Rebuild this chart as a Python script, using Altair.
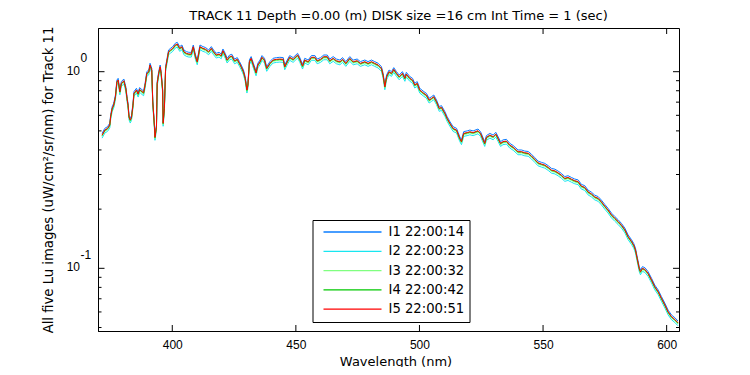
import altair as alt
import pandas as pd

# ---------------- data ----------------
wavelength = [
    371.6, 372.7, 373.8, 374.7, 375.1, 375.7, 376.3, 377.0, 377.6, 378.1,
    378.8, 379.4, 380.4, 381.2, 381.7, 382.1, 382.5, 383.0, 383.5, 384.1,
    384.5, 385.5, 386.2, 386.8, 387.4, 388.4, 389.0, 389.7, 390.5, 391.0,
    391.7, 392.1, 392.8, 393.0, 393.6, 393.9, 394.5, 395.1, 395.5, 396.1,
    396.3, 396.8, 397.3, 397.9, 398.5, 399.3, 400.2, 401.2, 402.0, 403.0,
    403.9, 404.7, 405.7, 406.7, 407.7, 408.5, 409.4, 410.1, 411.2, 412.4,
    413.5, 414.7, 415.8, 416.7, 417.8, 418.9, 419.8, 420.5, 421.4, 422.2,
    423.2, 424.1, 425.2, 426.3, 427.2, 427.9, 428.8, 429.5, 430.2, 430.6,
    431.2, 431.9, 432.8, 433.9, 434.6, 435.5, 436.3, 437.3, 438.2,
    439.5, 440.8, 442.2, 443.5, 444.9, 445.5, 446.5, 447.5, 448.9, 450.7,
    451.6, 452.7, 453.6, 455.0, 456.3, 457.7, 458.6, 460.0, 461.3, 462.7,
    463.7, 465.1, 466.4, 467.8, 468.9, 470.2, 471.8, 473.2, 474.8, 476.1,
    477.9, 479.2, 480.6, 481.9, 483.3, 484.6, 485.3, 486.0, 486.7, 487.7,
    488.7, 489.6, 490.7, 491.8, 493.1, 494.1, 494.7, 496.1, 497.2, 498.1,
    499.1, 500.1, 501.8, 502.8, 503.9, 504.9, 505.8, 506.9, 508.0, 508.9,
    510.3, 511.2, 512.3, 513.6, 515.0,
    516.3, 517.0, 517.9, 519.3, 520.4, 521.7, 523.7, 524.7, 526.4, 527.1,
    528.5, 529.8, 530.9, 531.8, 532.8, 533.8, 535.2, 536.5, 537.9, 539.9,
    541.3, 542.6, 544.0, 545.3, 546.7, 548.0, 549.4, 550.7, 552.1, 553.4,
    554.8, 556.1, 557.4, 558.8, 560.1, 561.5, 562.8, 564.2, 565.5, 566.9,
    568.2, 569.6, 570.9, 572.3, 573.6, 575.0, 576.3, 577.7, 579.0, 580.4,
    581.7, 583.1, 584.4, 585.8, 586.7, 587.4, 588.1, 588.9, 589.4, 590.2,
    591.2, 592.5, 593.9, 595.2, 596.6, 597.9, 599.3, 600.6, 602.0, 603.3,
    604.6,
]

# Lu of image I5 (red trace)
lu_i5 = [
    0.476, 0.505, 0.515, 0.536, 0.595, 0.651, 0.677, 0.746, 0.889, 0.907,
    0.791, 0.873, 0.900, 0.823, 0.732, 0.677, 0.590, 0.568, 0.586, 0.677,
    0.776, 0.807, 0.770, 0.814, 0.800, 0.782, 0.856, 0.981, 1.000, 1.082,
    1.020, 0.704, 0.525, 0.464, 0.525, 0.873, 0.981, 1.060, 0.981, 0.807,
    0.547, 0.651, 1.041, 1.147, 1.264, 1.289, 1.315, 1.367, 1.383, 1.315,
    1.340, 1.264, 1.240, 1.230, 1.230, 1.340, 1.192, 1.124, 1.340, 1.315,
    1.300, 1.264, 1.315, 1.264, 1.216, 1.230, 1.206, 1.279, 1.216, 1.147,
    1.192, 1.202, 1.137, 1.156, 1.103, 1.060, 1.000, 0.926, 0.807, 0.856,
    1.124, 1.170, 1.082, 0.988, 1.082, 1.124, 1.184, 1.147, 1.041,
    1.103, 1.147, 1.156, 1.160, 1.156, 1.060, 1.124, 1.184, 1.156, 1.216,
    1.156, 1.069, 1.147, 1.124, 1.184, 1.184, 1.137, 1.156, 1.192, 1.192,
    1.137, 1.170, 1.137, 1.124, 1.156, 1.103, 1.170, 1.124, 1.137, 1.103,
    1.124, 1.103, 1.124, 1.103, 1.082, 1.041, 0.962, 0.839, 0.943, 1.000,
    0.981, 1.028, 0.981, 0.943, 0.981, 0.926, 0.973, 0.926, 0.907, 0.856,
    0.873, 0.807, 0.776, 0.761, 0.718, 0.732, 0.746, 0.704, 0.651, 0.659,
    0.614, 0.579, 0.547, 0.515, 0.505,
    0.458, 0.441, 0.486, 0.490, 0.495, 0.490, 0.501, 0.486, 0.432, 0.464,
    0.476, 0.467, 0.482, 0.458, 0.432, 0.441, 0.444, 0.424, 0.413, 0.392,
    0.392, 0.387, 0.385, 0.373, 0.358, 0.344, 0.339, 0.335, 0.326, 0.316,
    0.313, 0.306, 0.298, 0.287, 0.290, 0.284, 0.279, 0.276, 0.262, 0.258,
    0.245, 0.239, 0.231, 0.227, 0.218, 0.207, 0.198, 0.187, 0.180, 0.173,
    0.166, 0.157, 0.145, 0.137, 0.131, 0.124, 0.112, 0.100, 0.0961, 0.100,
    0.0988, 0.0943, 0.0872, 0.0806, 0.0760, 0.0704, 0.0651, 0.0601, 0.0567, 0.0550,
    0.0529,
]

series_names = ["I1 22:00:14", "I2 22:00:23", "I3 22:00:32", "I4 22:00:42", "I5 22:00:51"]
# level of each image relative to I5
series_ratio = [1.02, 0.965, 0.985, 0.995, 1.0]
series_colors = ["#0A7CFF", "#18E6F0", "#80FF80", "#00C800", "#FF0000"]

x_ticks = [400, 450, 500, 550, 600]
y_major = [1.0, 0.1]
y_major_exp = ["0", "-1"]
y_minor = [0.9, 0.8, 0.7, 0.6, 0.5, 0.4, 0.3, 0.2, 0.09, 0.08, 0.07, 0.06, 0.05]

title_text = "TRACK 11 Depth =0.00 (m) DISK size =16 cm  Int Time = 1 (sec)"
x_title = "Wavelength (nm)"
y_title = "All five Lu images (uW/cm\u00b2/sr/nm) for Track 11"

# ---------------- tables ----------------
rows = []
for name, ratio in zip(series_names, series_ratio):
    for w, v in zip(wavelength, lu_i5):
        rows.append({"wl": w, "lu": v * ratio, "series": name})
df = pd.DataFrame(rows)
xt = pd.DataFrame({"x": x_ticks})
ymj = pd.DataFrame({"v": y_major, "base": ["10"] * len(y_major), "exp": y_major_exp})
ymn = pd.DataFrame({"v": y_minor})

FONT = "DejaVu Sans"
NUMFONT = "Liberation Sans"
W, H = 581, 303
xscale = alt.Scale(domain=[369.95, 605.0], nice=False, zero=False)
yscale = alt.Scale(type="log", domain=[0.048, 1.668], nice=False)

xaxis = alt.Axis(
    values=x_ticks, tickSize=0, labelFontSize=12, labelFont=NUMFONT, labelColor="black",
    labelPadding=8, domainColor="black", grid=False, title=x_title,
    titleFontSize=13, titleFont=FONT, titleFontWeight="normal", titleColor="black",
    titlePadding=5, titleX=W / 2 + 7)
yaxis = alt.Axis(
    values=y_major, labels=False, ticks=False, grid=False, domainColor="black", title=y_title,
    titleFontSize=13.2, titleFont=FONT, titleFontWeight="normal", titleColor="black",
    titleX=-50, titleY=H / 2, titleBaseline="middle")

lines = alt.Chart(df).mark_line(strokeWidth=1, clip=True).encode(
    x=alt.X("wl:Q", scale=xscale, axis=xaxis),
    y=alt.Y("lu:Q", scale=yscale, axis=yaxis),
    color=alt.Color("series:N", scale=alt.Scale(domain=series_names, range=series_colors),
                    legend=alt.Legend(
                        title=None, orient="none", legendX=214.5, legendY=192,
                        symbolType="stroke", symbolSize=3364, symbolStrokeWidth=1.3,
                        clipHeight=14,
                        labelFontSize=13.2, labelFont=FONT, labelColor="black",
                        padding=5, symbolOffset=5, labelOffset=6, rowPadding=5.3,
                        strokeColor="black", fillColor="white", cornerRadius=0)),
)

rule = dict(color="black", strokeWidth=1)
xb = alt.Chart(xt).mark_rule(**rule).encode(
    x=alt.X("x:Q", scale=xscale, axis=xaxis), y=alt.value(H), y2=alt.value(H - 6))
xtop = alt.Chart(xt).mark_rule(**rule).encode(
    x=alt.X("x:Q", scale=xscale, axis=xaxis), y=alt.value(0), y2=alt.value(6))
yl = alt.Chart(ymj).mark_rule(**rule).encode(
    y=alt.Y("v:Q", scale=yscale, axis=yaxis), x=alt.value(0.5), x2=alt.value(6.5))
yr = alt.Chart(ymj).mark_rule(**rule).encode(
    y=alt.Y("v:Q", scale=yscale, axis=yaxis), x=alt.value(W), x2=alt.value(W - 6))
yml = alt.Chart(ymn).mark_rule(**rule).encode(
    y=alt.Y("v:Q", scale=yscale, axis=yaxis), x=alt.value(0.5), x2=alt.value(3.5))
ymr = alt.Chart(ymn).mark_rule(**rule).encode(
    y=alt.Y("v:Q", scale=yscale, axis=yaxis), x=alt.value(W), x2=alt.value(W - 3))

lab_base = alt.Chart(ymj).mark_text(
    align="right", baseline="alphabetic", fontSize=12, font=NUMFONT, color="black", dy=3
).encode(y=alt.Y("v:Q", scale=yscale, axis=yaxis), x=alt.value(-18), text="base:N")
lab_exp = alt.Chart(ymj).mark_text(
    align="left", baseline="alphabetic", fontSize=12, font=NUMFONT, color="black", dy=-9.5
).encode(y=alt.Y("v:Q", scale=yscale, axis=yaxis), x=alt.value(-17.5), text="exp:N")

chart = alt.layer(lines, xb, xtop, yl, yr, yml, ymr, lab_base, lab_exp).properties(
    width=W, height=H,
    title=alt.TitleParams(text=title_text, fontSize=13, font=FONT, fontWeight="normal",
                          color="black", anchor="middle", dx=10, offset=3),
    padding={"left": 90, "top": 20, "right": 40, "bottom": 36},
    autosize=alt.AutoSizeParams(type="none"),
    background="white",
).configure_view(stroke="black", strokeWidth=1)

chart.save("out.html", embed_options={"renderer": "svg", "actions": False})
